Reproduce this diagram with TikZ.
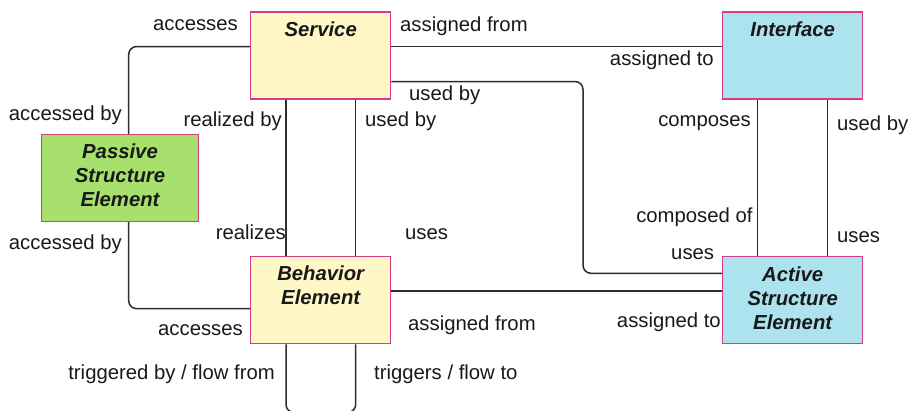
\documentclass[tikz,border=0pt]{standalone}
\usepackage{fontspec}
\setmainfont{Liberation Sans}
\setsansfont{Liberation Sans}
\definecolor{bordc}{RGB}{214,60,130}
\definecolor{yel}{RGB}{255,248,198}
\definecolor{blu}{RGB}{173,227,238}
\definecolor{grn}{RGB}{168,224,110}
\definecolor{linec}{RGB}{45,45,45}
\definecolor{txtc}{RGB}{25,25,25}
\begin{document}
\begin{tikzpicture}[x=1pt,y=-1pt,
  box/.style={draw=bordc, line width=1.3pt, minimum width=140pt, minimum height=87pt, inner sep=0pt},
  ttl/.style={inner sep=0pt, font=\fontsize{20.3}{24}\selectfont\bfseries\itshape, align=center, text=txtc},
  lbl/.style={inner sep=0pt, font=\fontsize{20.3}{24}\selectfont, text height=14.5pt, text depth=4.3pt, text=txtc},
  conn/.style={draw=linec, line width=1.5pt, rounded corners=8pt}]
\useasboundingbox (0,0) rectangle (916,410);

\node[box, fill=yel] (svc) at (320.7,55.5) {};
\node[box, fill=blu] (itf) at (792.7,55.5) {};
\node[box, fill=grn, minimum width=157.4pt] (pas) at (120,178) {};
\node[box, fill=yel] (beh) at (320.7,300.3) {};
\node[box, fill=blu] (act) at (792.7,300.3) {};

\draw[conn] ([yshift=9pt]svc.west) -| ([xshift=8.7pt]pas.north);
\draw[conn] ([xshift=8.7pt]pas.south) |- ([yshift=-8.4pt]beh.west);
\draw[conn] ([yshift=9pt]svc.east) -- ([yshift=9pt]itf.west);
\draw[conn] ([yshift=-26pt]svc.east) -| (583,200) |- ([yshift=27pt]act.west);
\draw[conn] ([yshift=9.3pt]beh.east) -- ([yshift=9.3pt]act.west);
\draw[conn] ([xshift=-34.7pt]svc.south) -- ([xshift=-34.7pt]beh.north);
\draw[conn] ([xshift=35pt]svc.south) -- ([xshift=35pt]beh.north);
\draw[conn] ([xshift=-35pt]itf.south) -- ([xshift=-35pt]act.north);
\draw[conn] ([xshift=35pt]itf.south) -- ([xshift=35pt]act.north);
\draw[conn] ([xshift=-34.7pt]beh.south) |- (320.7,412.5) -| ([xshift=35pt]beh.south);

\node[ttl] (svcT) at ([yshift=-18pt]svc.north) {Service};
\node[ttl] (itfT) at ([yshift=-18pt]itf.north) {Interface};
\node[ttl] (behT) at ([yshift=-29pt]beh.north) {Behavior\\Element};
\node[ttl] (pasT) at ([yshift=2.3pt]pas.center) {Passive\\Structure\\Element};
\node[ttl] (actT) at ([yshift=2.3pt]act.center) {Active\\Structure\\Element};

\node[lbl, anchor=east] (l1) at (238,25) {accesses};
\node[lbl, anchor=west] (l2) at (400,26) {assigned from};
\node[lbl, anchor=east] (l3) at (714,60.5) {assigned to};
\node[lbl, anchor=west] (l4) at (409,95.5) {used by};
\node[lbl, anchor=east] (l5) at (122,115.5) {accessed by};
\node[lbl, anchor=east] (l6) at (282,121.5) {realized by};
\node[lbl, anchor=west] (l7) at (365,121.5) {used by};
\node[lbl, anchor=east] (l8) at (751,121.5) {composes};
\node[lbl, anchor=west] (l9) at (837,125.5) {used by};
\node[lbl, anchor=east] (l10) at (752.7,217) {composed of};
\node[lbl, anchor=east] (l11) at (286,234.5) {realizes};
\node[lbl, anchor=west] (l12) at (405,234.5) {uses};
\node[lbl, anchor=west] (l13) at (837,237.5) {uses};
\node[lbl, anchor=east] (l14) at (122,244) {accessed by};
\node[lbl, anchor=east] (l15) at (714.3,254.5) {uses};
\node[lbl, anchor=west] (l16) at (408,325.5) {assigned from};
\node[lbl, anchor=east] (l17) at (721,322) {assigned to};
\node[lbl, anchor=east] (l18) at (243,330.5) {accesses};
\node[lbl, anchor=east] (l19) at (275,374.5) {triggered by / flow from};
\node[lbl, anchor=west] (l20) at (374,374.5) {triggers / flow to};
\end{tikzpicture}
\end{document}
